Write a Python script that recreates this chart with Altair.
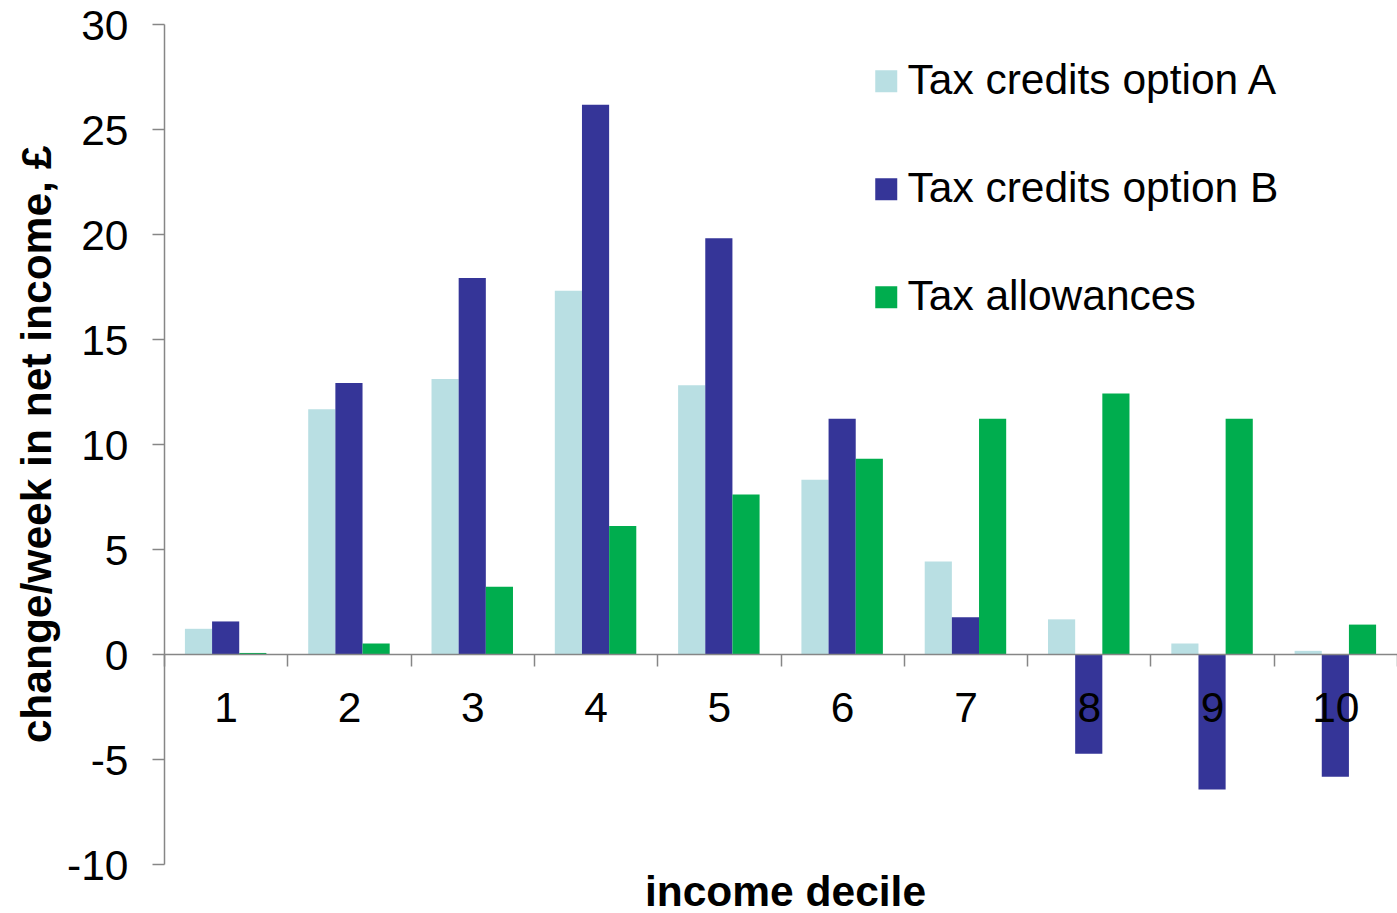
import altair as alt
import pandas as pd

deciles = ["1", "2", "3", "4", "5", "6", "7", "8", "9", "10"]
series = ["Tax credits option A", "Tax credits option B", "Tax allowances"]
option_a = [1.2, 11.65, 13.1, 17.3, 12.8, 8.3, 4.4, 1.65, 0.5, 0.15]
option_b = [1.55, 12.9, 17.9, 26.15, 19.8, 11.2, 1.75, -4.75, -6.45, -5.85]
allowances = [0.05, 0.5, 3.2, 6.1, 7.6, 9.3, 11.2, 12.4, 11.2, 1.4]
colors = ["#B9DFE3", "#353598", "#00AD4E"]
y_ticks = [-10, -5, 0, 5, 10, 15, 20, 25, 30]

rows = []
for name, vals in zip(series, [option_a, option_b, allowances]):
    for d, v in zip(deciles, vals):
        rows.append({"decile": d, "series": name, "value": v})
df = pd.DataFrame(rows)

FONT = "Liberation Sans"
FS = 42.5

chart = alt.Chart(df).mark_bar().encode(
    x=alt.X(
        "decile:N",
        sort=deciles,
        scale=alt.Scale(paddingInner=0, paddingOuter=0),
        axis=alt.Axis(
            title="income decile",
            titleX=621,
            titleY=251,
            titleBaseline="alphabetic",
            titleFont=FONT,
            titleFontSize=FS,
            titleFontWeight="bold",
            titleColor="black",
            offset=-210,
            tickBand="extent",
            tickSize=12,
            tickColor="#868686",
            tickWidth=1.5,
            domainColor="#868686",
            domainWidth=1.5,
            labelAngle=0,
            labelFont=FONT,
            labelFontSize=FS,
            labelColor="black",
            labelPadding=21,
            zindex=1,
        ),
    ),
    xOffset=alt.XOffset(
        "series:N",
        sort=series,
        scale=alt.Scale(paddingInner=0, paddingOuter=0.77),
    ),
    y=alt.Y(
        "value:Q",
        scale=alt.Scale(domain=[-10, 30], nice=False, zero=False),
        axis=alt.Axis(
            values=y_ticks,
            labelExpr="'' + datum.value",
            title="change/week in net income, £",
            titleX=-114,
            titleY=420,
            titleAngle=270,
            titleBaseline="alphabetic",
            titleFont=FONT,
            titleFontSize=FS,
            titleFontWeight="bold",
            titleColor="black",
            tickSize=12,
            tickColor="#868686",
            tickWidth=1.5,
            domainColor="#868686",
            domainWidth=1.5,
            grid=False,
            labelFont=FONT,
            labelFontSize=FS,
            labelColor="black",
            labelPadding=24,
            labelOffset=2,
        ),
    ),
    color=alt.Color(
        "series:N",
        sort=series,
        scale=alt.Scale(domain=series, range=colors),
        legend=alt.Legend(
            title=None,
            orient="none",
            legendX=701,
            legendY=36,
            direction="vertical",
            rowPadding=65,
            labelFont=FONT,
            labelFontSize=FS,
            labelColor="black",
            labelOffset=0,
            symbolType="square",
            symbolSize=484,
            symbolStrokeWidth=0,
            labelLimit=600,
        ),
    ),
).properties(
    width=1233,
    height=840,
    background="white",
    autosize=alt.AutoSizeParams(type="none"),
    padding={"left": 164, "top": 24, "right": 0, "bottom": 49},
).configure_view(stroke=None)

chart.save("out.html", embed_options={"renderer": "svg", "actions": False})
